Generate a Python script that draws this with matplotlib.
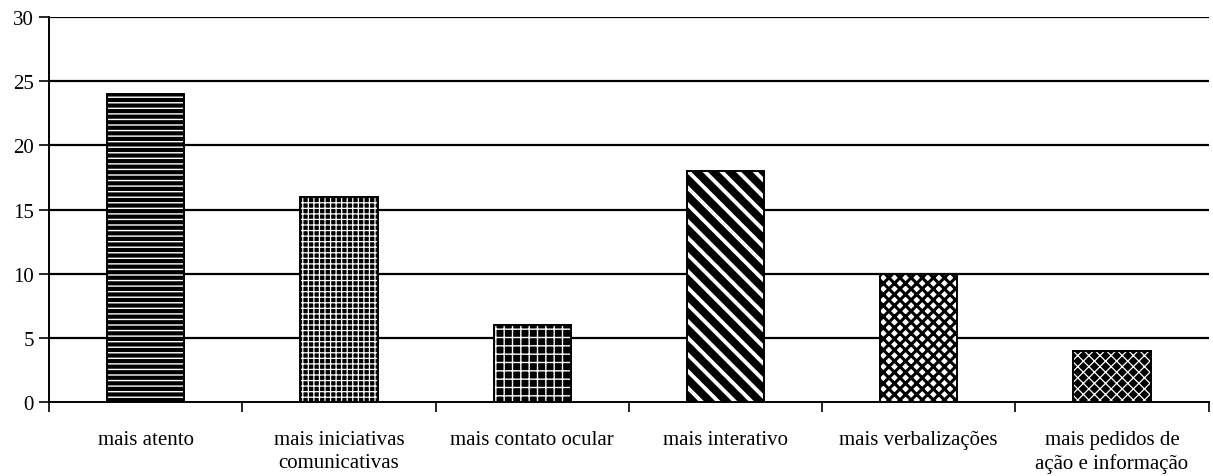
import numpy as np
import matplotlib
matplotlib.use("Agg")
import matplotlib.pyplot as plt

plt.rcParams.update({"font.family": "Liberation Serif",
                     "hatch.linewidth": 1.2})

categories = ["mais atento", "mais iniciativas\ncomunicativas",
              "mais contato ocular", "mais interativo",
              "mais verbalizações", "mais pedidos de\nação e informação"]
values = [24, 16, 6, 18, 10, 4]

# (face colour, hatch colour, hatch pattern, hatch line width) per bar
styles = [("black", "white", "---", 1.0),
          ("black", "white", "+++", 0.9),
          ("black", "white", "++", 1.0),
          ("black", "white", "\\\\", 2.8),
          ("white", "black", "xxx", 2.2),
          ("black", "white", "xxx", 0.9)]

fig = plt.figure(figsize=(12.13, 4.77), dpi=100)
ax = fig.add_axes([0.0404, 0.155, 0.956, 0.807])

xs = np.arange(len(categories))
for y in range(5, 31, 5):
    ax.axhline(y, color="black", lw=1.6, zorder=1)

for x, v, (fc, hc, h, hlw) in zip(xs, values, styles):
    b = ax.bar(x, v, width=0.4, color=fc, edgecolor=hc, hatch=h, lw=0,
               zorder=3)
    for p in b:
        if hasattr(p, "set_hatch_linewidth"):
            p.set_hatch_linewidth(hlw)
    ax.bar(x, v, width=0.4, fill=False, edgecolor="black", lw=1.4, zorder=4)

ax.set_xlim(-0.5, len(categories) - 0.5)
ax.set_ylim(0, 30)
ax.set_yticks(range(0, 31, 5))
ax.set_xticks(xs)
ax.set_xticklabels(categories, fontsize=15, linespacing=1.3)
ax.set_xticks(np.arange(-0.5, len(categories)), minor=True)
ax.tick_params(axis="x", which="major", length=0, pad=20)
ax.tick_params(axis="x", which="minor", length=7, width=1.2, direction="out")
ax.tick_params(axis="y", length=7, width=1.2, labelsize=15, pad=4)

for s in ("top", "right"):
    ax.spines[s].set_visible(False)
ax.spines["left"].set_linewidth(1.4)
ax.spines["bottom"].set_linewidth(1.4)

fig.savefig("out.png", dpi=100)
